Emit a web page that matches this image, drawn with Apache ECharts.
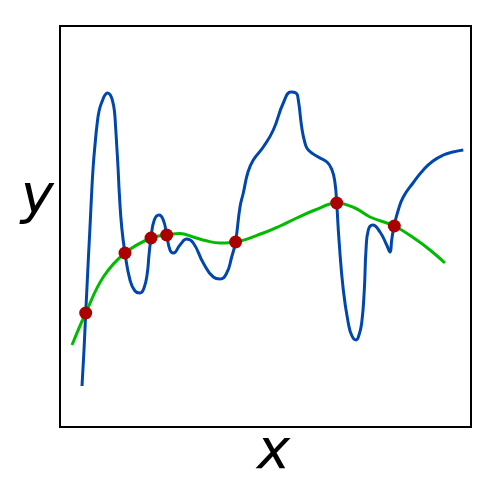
<!DOCTYPE html>
<html style="height: 100%">
<head>
    <meta charset="UTF-8">
    <title>x / y</title>
    <script src="https://cdn.jsdelivr.net/npm/echarts/dist/echarts.min.js"></script>
    <style>
        #main {
            width: 498px;
            height: 480px;
        }
    </style>
</head>
<body style="height: 100%; margin: 0; background: #fff">
    <div id="main"></div>
    <script type="text/javascript">
        // wiggly curve (arbitrary units)
        var wiggle = [
            [22, 41], [24, 77], [25.7, 114], [26.7, 134], [28.3, 167], [30, 200], [31.7, 235],
            [33.3, 262], [35, 282], [37, 302], [39.3, 317], [42.7, 327], [45, 332], [47.7, 334],
            [50.3, 332], [52.3, 327], [54.3, 317], [55.6, 300], [56.7, 282], [58, 260],
            [59.3, 234], [61.7, 200], [65, 174], [70, 147], [75, 136], [80, 134], [84, 139],
            [87.3, 154], [89, 172], [91, 189], [94.3, 207], [99, 212], [103.3, 207], [106.7, 192],
            [110, 177], [113.3, 174], [120, 182], [126.7, 188], [133.3, 184], [143.3, 164],
            [153.3, 150], [160, 148], [166.7, 154], [171.7, 170], [175.5, 185], [180, 220],
            [183.3, 234], [188, 255], [193.3, 267], [203.3, 280], [213.3, 297], [223.3, 324],
            [231, 335], [236, 334], [238.3, 327], [241.7, 300], [245, 284], [248.3, 277],
            [258.3, 270], [267, 265], [272, 257], [275, 244], [276.7, 224], [279, 187],
            [283.3, 137], [288.3, 104], [292, 91], [296, 87], [299, 92], [301.7, 104],
            [304.3, 137], [306, 177], [308.3, 197], [312.7, 202], [320, 195], [326.7, 182],
            [330, 175], [331.7, 187], [334.3, 202], [338.3, 217], [343.3, 230], [353, 244],
            [363.3, 257], [373, 266], [383.3, 272], [393, 275], [403.3, 277]
        ];

        // smooth fitted curve
        var fit = [
            [12, 82], [25.7, 114], [43.3, 150], [65, 174], [91, 189], [106.7, 192], [120, 193.5],
            [133.3, 190], [145, 186.5], [160, 184], [175.7, 185], [203.3, 194], [220, 201],
            [236.7, 209], [255, 217], [276.7, 224], [295, 219], [310, 210], [334.3, 201],
            [356.7, 187], [370, 177], [385, 164]
        ];

        // crossing points
        var crossings = [
            [25.7, 114], [65, 174], [91, 189], [106.7, 192], [175.6, 185], [276.7, 224], [334.3, 201]
        ];

        var chartDom = document.getElementById('main');
        var myChart = echarts.init(chartDom);
        var option;

        var nameFont = {
            fontFamily: 'DejaVu Sans',
            fontStyle: 'italic',
            fontSize: 56,
            color: '#000'
        };

        option = {
            animation: false,
            grid: {
                show: true,
                left: 60,
                top: 26,
                width: 411,
                height: 401,
                outerBoundsMode: 'none',
                containLabel: false,
                borderColor: '#000',
                borderWidth: 2
            },
            xAxis: {
                type: 'value',
                min: 0,
                max: 411,
                name: 'x',
                nameLocation: 'middle',
                nameGap: -2,
                nameTextStyle: Object.assign({}, nameFont, { padding: [0, 0, 0, 16] }),
                axisLine: { show: false },
                axisTick: { show: false },
                axisLabel: { show: false },
                splitLine: { show: false }
            },
            yAxis: {
                type: 'value',
                min: 0,
                max: 401,
                name: 'y',
                nameLocation: 'middle',
                nameRotate: 0,
                nameGap: 6,
                nameTextStyle: Object.assign({}, nameFont, { verticalAlign: 'bottom' }),
                axisLine: { show: false },
                axisTick: { show: false },
                axisLabel: { show: false },
                splitLine: { show: false }
            },
            series: [
                {
                    type: 'line',
                    data: wiggle,
                    smooth: 0.5,
                    showSymbol: false,
                    lineStyle: { color: '#0047ab', width: 3 },
                    z: 2
                },
                {
                    type: 'line',
                    data: fit,
                    smooth: 0.4,
                    showSymbol: false,
                    lineStyle: { color: '#00bb00', width: 3 },
                    z: 3
                },
                {
                    type: 'scatter',
                    data: crossings,
                    symbolSize: 13,
                    itemStyle: { color: '#aa0000', opacity: 1 },
                    z: 4
                }
            ]
        };

        myChart.setOption(option);
    </script>
</body>
</html>
